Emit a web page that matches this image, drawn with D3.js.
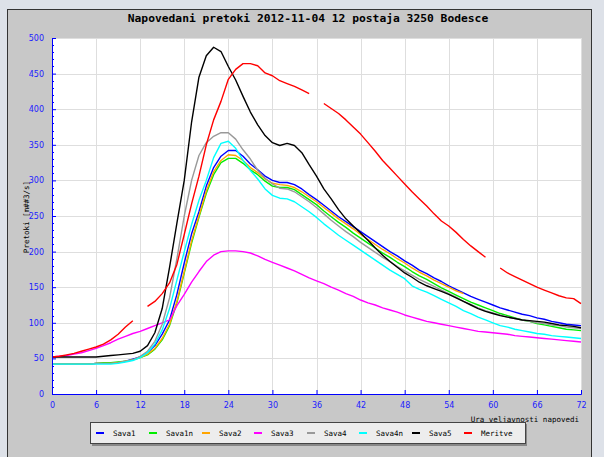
<!DOCTYPE html>
<meta charset="utf-8">
<script src="https://d3js.org/d3.v7.min.js"></script>
<style>
body { margin: 0; background: #dde1e8; }
svg { display: block; }
.mono { font-family: "DejaVu Sans Mono", "Liberation Mono", monospace; }
.tick text { font-family: "DejaVu Sans", sans-serif; font-size: 8px; fill: #2020ff; }
</style>
<body>
</body>
<script>

// hours 0..72
var hours = d3.range(0, 73);

var sava1 = [42,42,42,42,42,42,43,43,43,44,46,49,52,58,68,84,104,140,184,225,256,292,318,334,342,342,334,323,315,306,300,297,297,294,288,280,273,265,257,249,242,235,228,221,214,207,200,194,187,181,174,169,163,158,152,147,142,137,133,129,125,121,118,115,112,110,107,105,102,100,98,97,96];
var sava1n = [42,42,42,42,42,42,43,44,44,45,46,48,51,55,63,76,96,128,170,212,248,282,308,325,331,331,324,315,308,299,292,290,290,287,280,273,266,257,249,241,234,226,219,212,205,198,192,185,179,172,166,161,155,149,144,139,134,129,125,121,117,113,110,107,104,102,99,97,95,93,91,90,89];
var sava2 = [42,42,42,42,42,42,43,43,43,44,46,48,51,56,64,78,98,130,172,215,250,285,312,328,336,335,328,318,311,302,296,294,293,290,284,277,270,262,254,246,239,232,224,217,210,203,197,190,184,177,171,166,160,155,150,145,141,null,null,null,null,null,null,null,null,null,null,null,null,null,null,null,null];
var sava3 = [52,53,54,56,58,61,64,68,72,77,81,85,88,92,96,100,104,124,140,157,172,186,195,200,201,201,200,198,194,189,185,181,177,173,168,163,159,155,150,146,141,137,132,128,125,121,118,115,111,108,105,102,100,98,96,94,92,90,88,87,86,85,84,82,81,80,79,78,77,76,75,74,73];
var sava4 = [42,42,42,42,42,42,43,43,43,44,46,48,53,60,74,98,135,190,250,300,335,353,362,367,367,358,343,330,314,303,295,289,288,284,277,270,262,253,244,236,228,221,213,206,199,192,186,179,173,167,161,156,151,146,141,136,130,126,121,117,114,111,108,106,104,102,100,99,97,96,94,93,92];
var sava4n = [42,42,42,42,42,42,42,42,42,43,45,47,51,58,70,90,120,160,200,238,272,300,332,352,355,345,328,314,302,288,279,275,274,270,263,256,248,239,231,223,216,209,202,195,188,181,174,168,162,152,147,143,138,133,128,123,117,113,108,104,100,96,94,91,89,87,85,84,82,81,80,79,78];
var sava5 = [52,52,52,52,52,52,52,53,54,55,56,57,60,68,86,120,178,240,300,382,445,475,487,481,460,441,418,396,378,363,353,349,352,349,339,322,306,288,274,259,246,236,226,216,205,195,186,178,170,164,157,152,148,144,140,135,130,125,120,116,113,110,108,106,104,103,102,101,99,97,96,95,93];
var meritve = [52,53,55,57,60,63,66,70,76,84,94,103,null,123,130,141,156,182,224,267,306,350,385,411,442,456,464,464,461,451,447,440,436,432,427,422,null,408,401,394,385,375,365,353,341,328,317,306,295,284,274,264,253,243,236,227,217,208,200,192,null,177,170,165,160,155,150,146,142,138,135,134,127];

var names = ["Sava1", "Sava1n", "Sava2", "Sava3", "Sava4", "Sava4n", "Sava5", "Meritve"];
var colors = ["#0000ff", "#00ee00", "#ffa500", "#ff00ff", "#999999", "#00ffff", "#000000", "#ff0000"];
var seriesValues = [sava1, sava1n, sava2, sava3, sava4, sava4n, sava5, meritve];

var xTicks = d3.range(0, 73, 6);
var yTicks = d3.range(0, 501, 50);

var W = 604, H = 457;
var margin = {top: 38, left: 52, right: 23, bottom: 63};
var width = W - margin.left - margin.right;
var height = H - margin.top - margin.bottom;

var svg = d3.select("body").append("svg")
  .attr("width", W)
  .attr("height", H);

// gray panel
svg.append("rect")
  .attr("x", 7.5).attr("y", 9.5)
  .attr("width", 584).attr("height", 460)
  .attr("fill", "#c8c8c8")
  .attr("stroke", "#333");

svg.append("text")
  .attr("class", "mono")
  .attr("x", 308).attr("y", 22)
  .attr("text-anchor", "middle")
  .style("font-size", "11.3px")
  .style("font-weight", "bold")
  .text("Napovedani pretoki 2012-11-04 12 postaja 3250 Bodesce");

var g = svg.append("g")
  .attr("transform", "translate(" + margin.left + "," + margin.top + ")");

var x = d3.scaleLinear().domain([0, 72]).range([0, width]);
var y = d3.scaleLinear().domain([0, 500]).range([height, 0]);

g.append("rect")
  .attr("width", width).attr("height", height)
  .attr("fill", "#fff");

// grid
g.selectAll(".vgrid")
  .data(xTicks.slice(1))
  .enter().append("line")
  .attr("x1", function(d) { return Math.round(x(d)) + 0.5; })
  .attr("x2", function(d) { return Math.round(x(d)) + 0.5; })
  .attr("y1", 0).attr("y2", height)
  .attr("stroke", "#dedede");

g.selectAll(".hgrid")
  .data(yTicks.slice(1))
  .enter().append("line")
  .attr("y1", function(d) { return Math.round(y(d)) + 0.5; })
  .attr("y2", function(d) { return Math.round(y(d)) + 0.5; })
  .attr("x1", 0).attr("x2", width)
  .attr("stroke", "#dedede");

// series
var line = d3.line()
  .defined(function(d) { return d[1] != null; })
  .x(function(d) { return x(d[0]); })
  .y(function(d) { return y(d[1]); });

seriesValues.forEach(function(vals, i) {
  g.append("path")
    .datum(hours.map(function(h, j) { return [h, vals[j]]; }))
    .attr("fill", "none")
    .attr("stroke", colors[i])
    .attr("stroke-width", 1.4)
    .attr("stroke-linejoin", "round")
    .attr("d", line);
});

// axes
var yAxis = d3.axisLeft(y).tickValues(yTicks).tickSize(-4).tickPadding(8);
var xAxis = d3.axisBottom(x).tickValues(xTicks).tickSize(-4).tickPadding(8);

var yG = g.append("g").call(yAxis);
var xG = g.append("g").attr("transform", "translate(0," + height + ")").call(xAxis);

[yG, xG].forEach(function(a) {
  a.select(".domain").attr("stroke", "#0000ff");
  a.selectAll(".tick line").attr("stroke", "#0000ff");
});

// minor y ticks
g.selectAll(".minor")
  .data(d3.range(0, 501, 10).filter(function(d) { return d % 50 != 0; }))
  .enter().append("line")
  .attr("x1", 0).attr("x2", 2)
  .attr("y1", function(d) { return Math.round(y(d)) + 0.5; })
  .attr("y2", function(d) { return Math.round(y(d)) + 0.5; })
  .attr("stroke", "#0000ff");

svg.append("text")
  .attr("class", "mono")
  .attr("transform", "translate(29,217) rotate(-90)")
  .attr("text-anchor", "middle")
  .style("font-size", "7.5px")
  .text("Pretoki [m##3/s]");

svg.append("text")
  .attr("class", "mono")
  .attr("x", 579).attr("y", 422)
  .attr("text-anchor", "end")
  .style("font-size", "7.5px")
  .text("Ura veljavnosti napovedi");

// legend
var legendX = [96, 149, 202, 254, 307, 359, 412, 464];

svg.append("rect")
  .attr("x", 92).attr("y", 424)
  .attr("width", 435).attr("height", 22)
  .attr("fill", "#888");
svg.append("rect")
  .attr("x", 90.5).attr("y", 422.5)
  .attr("width", 435).attr("height", 21)
  .attr("fill", "#ededed")
  .attr("stroke", "#444");

var leg = svg.selectAll(".leg")
  .data(names)
  .enter().append("g")
  .attr("transform", function(d, i) { return "translate(" + legendX[i] + ",433)"; });

leg.append("line")
  .attr("x1", 0).attr("x2", 8)
  .attr("stroke", function(d, i) { return colors[i]; })
  .attr("stroke-width", 2);

leg.append("text")
  .attr("class", "mono")
  .attr("x", 17).attr("y", 3)
  .style("font-size", "7.5px")
  .text(function(d) { return d; });

</script>
